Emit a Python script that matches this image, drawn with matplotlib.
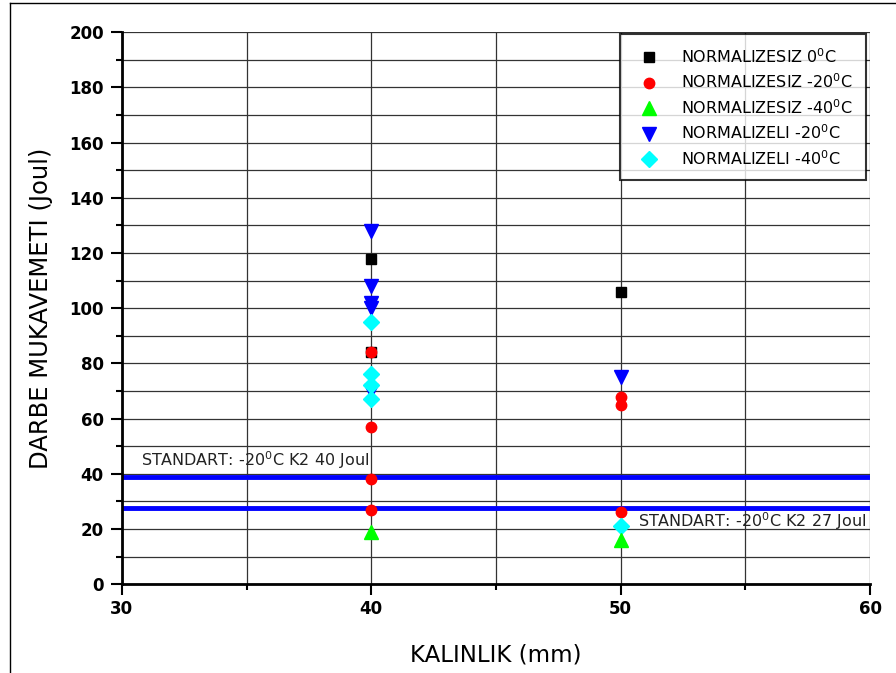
import matplotlib
matplotlib.use('Agg')
from matplotlib import pyplot as plt
from matplotlib.ticker import MultipleLocator

plt.rcParams['font.family'] = ['DejaVu Sans']

# data
x_nsiz_0 = [40, 40, 50]
y_nsiz_0 = [118, 84, 106]

x_nsiz_20 = [40, 40, 40, 40, 50, 50, 50]
y_nsiz_20 = [84, 57, 38, 27, 68, 65, 26]

x_nsiz_40 = [40, 50]
y_nsiz_40 = [19, 16]

x_nli_20 = [40, 40, 40, 40, 40, 50]
y_nli_20 = [128, 108, 102, 100, 70, 75]

x_nli_40 = [40, 40, 40, 40, 50]
y_nli_40 = [95, 76, 72, 67, 21]

std_40 = 39
std_27 = 27.5

deg = r'$^{\mathregular{0}}$'

fig = plt.figure(figsize=(8.96, 6.73), dpi=100)
ax = fig.add_axes([0.136, 0.132, 0.835, 0.820])

# outer frame
fig.add_artist(plt.Line2D([0.011, 0.011], [0, 0.995], color='black', lw=1, transform=fig.transFigure))
fig.add_artist(plt.Line2D([0.011, 1.0], [0.995, 0.995], color='black', lw=1, transform=fig.transFigure))

ax.axhline(std_40, color='#0000ff', lw=3.5, zorder=2)
ax.axhline(std_27, color='#0000ff', lw=3.5, zorder=2)

ax.plot(x_nsiz_0, y_nsiz_0, 's', color='black', ms=7, ls='none',
        label='NORMALIZESIZ 0' + deg + 'C', zorder=3)
ax.plot(x_nli_20, y_nli_20, 'v', color='#0000ff', ms=10, ls='none',
        label='NORMALIZELI -20' + deg + 'C', zorder=3)
ax.plot(x_nsiz_20, y_nsiz_20, 'o', color='#ff0000', ms=7.5, ls='none',
        label='NORMALIZESIZ -20' + deg + 'C', zorder=4)
ax.plot(x_nli_40, y_nli_40, 'D', color='#00ffff', ms=8, ls='none',
        label='NORMALIZELI -40' + deg + 'C', zorder=4)
ax.plot(x_nsiz_40, y_nsiz_40, '^', color='#00ff00', ms=10, ls='none',
        label='NORMALIZESIZ -40' + deg + 'C', zorder=4)

ax.text(30.75, 45, 'STANDART: -20' + deg + 'C K2 40 Joul', fontsize=11.5,
        va='center', ha='left', color='#222222', zorder=5)
ax.text(50.7, 23, 'STANDART: -20' + deg + 'C K2 27 Joul', fontsize=11.5,
        va='center', ha='left', color='#222222', zorder=5, clip_on=True)

ax.set_xlim(30, 60)
ax.set_ylim(0, 200)
ax.xaxis.set_major_locator(MultipleLocator(10))
ax.xaxis.set_minor_locator(MultipleLocator(5))
ax.yaxis.set_major_locator(MultipleLocator(20))
ax.yaxis.set_minor_locator(MultipleLocator(10))
ax.grid(True, which='both', color='#333333', lw=0.9, zorder=1)
ax.set_axisbelow(True)
ax.tick_params(which='both', direction='out', width=1.5, labelsize=12)
ax.tick_params(axis='y', pad=5)
ax.tick_params(which='major', length=8)
ax.tick_params(which='minor', length=4)
for lbl in ax.get_xticklabels() + ax.get_yticklabels():
    lbl.set_fontweight('bold')
for s in ['top', 'right']:
    ax.spines[s].set_visible(False)
for s in ['left', 'bottom']:
    ax.spines[s].set_linewidth(2)

ax.set_xlabel('KALINLIK (mm)', fontsize=16.5, labelpad=18)
ax.set_ylabel('DARBE MUKAVEMETI (Joul)', fontsize=17.5, labelpad=12)

handles, labels = ax.get_legend_handles_labels()
order = [0, 2, 4, 1, 3]
leg = ax.legend([handles[i] for i in order], [labels[i] for i in order],
                loc='upper right', bbox_to_anchor=(0.9985, 1.002), fontsize=11.5,
                frameon=True, fancybox=False, edgecolor='black',
                borderpad=0.8, labelspacing=0.42, handletextpad=1.0,
                borderaxespad=0.2)
leg.get_frame().set_linewidth(1.5)
leg.set_zorder(10)

fig.savefig('out.png', dpi=100)
